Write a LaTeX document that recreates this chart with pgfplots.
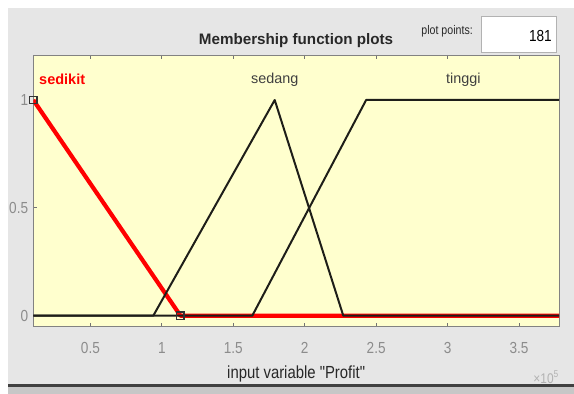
\documentclass[border=0pt]{standalone}
\usepackage{pgfplots}
\pgfplotsset{compat=1.18}
\usepackage{fontspec}
\setmainfont{Liberation Sans}
\newfontfamily\condfont[FakeStretch=0.85]{Liberation Sans}
\definecolor{panel}{RGB}{230,230,230}
\definecolor{axbg}{RGB}{255,255,206}
\definecolor{ticklab}{RGB}{140,140,140}
\definecolor{framec}{RGB}{130,130,130}
\definecolor{mfred}{RGB}{255,0,0}
\definecolor{darktext}{RGB}{40,40,40}
\definecolor{mfline}{RGB}{30,30,25}

\begin{document}
\begin{tikzpicture}
\useasboundingbox (0bp,0bp) rectangle (574bp,394bp);
\fill[white] (0bp,0bp) rectangle (574bp,394bp);
\fill[panel] (8bp,9bp) rectangle (574bp,386bp);
\fill[black!22] (8bp,0bp) rectangle (574bp,7.5bp);
\fill[black!75] (8bp,7bp) rectangle (574bp,10bp);

\node[anchor=base, font=\fontsize{15.2bp}{17bp}\selectfont\bfseries, text=darktext, inner sep=0pt] at (296bp,349bp) {Membership function plots};
\node[anchor=base east, font=\condfont\fontsize{12.5bp}{14bp}\selectfont, text=darktext, inner sep=0pt] at (473bp,359bp) {plot points:};
\draw[fill=white, draw=black!30] (481bp,342bp) rectangle (556bp,378bp);
\node[anchor=base east, font=\condfont\fontsize{16bp}{18bp}\selectfont, text=black, inner sep=0pt] at (552bp,352.5bp) {181};

\begin{axis}[
  at={(33.3bp,67.2bp)}, anchor=south west,
  scale only axis,
  width=525.7bp, height=271.8bp,
  xmin=0.1, xmax=3.78,
  ymin=-0.0515, ymax=1.2086,
  axis background/.style={fill=axbg},
  axis line style={draw=framec, line width=0.9pt},
  xtick={0.5,1,1.5,2,2.5,3,3.5},
  xticklabels={0.5,1,1.5,2,2.5,3,3.5},
  ytick={0,0.5,1},
  yticklabels={0,0.5,1},
  tick align=inside,
  xtick pos=both,
  ytick pos=left,
  major tick length=4bp,
  tick style={draw=black!55, line width=0.8pt},
  xticklabel style={font=\condfont\fontsize{16bp}{18bp}\selectfont, text=ticklab, anchor=base, yshift=-27bp, inner sep=0pt},
  yticklabel style={font=\condfont\fontsize{16bp}{18bp}\selectfont, text=ticklab, anchor=east, xshift=-5bp, inner sep=0pt},
  xlabel={input variable "Profit"},
  xlabel style={at={(axis description cs:0.5,0)}, anchor=base, yshift=-52bp, font=\condfont\fontsize{17.5bp}{19bp}\selectfont, text=darktext, inner sep=0pt},
  clip=true,
]
% selected MF (sedikit), drawn thick red
\addplot[mfred, line width=4.2pt, line join=round] coordinates {(0.1,1) (1.13,0) (3.78,0)};
% sedang
\addplot[mfline, line width=2pt, line join=round] coordinates {(0.1,0) (0.94,0) (1.79,1) (2.27,0) (3.78,0)};
% tinggi
\addplot[mfline, line width=2pt, line join=round] coordinates {(0.1,0) (1.633,0) (2.43,1) (3.78,1)};
% handles
\addplot[only marks, mark=square, mark size=3.6bp, mark options={draw=black!80, line width=1.3pt}] coordinates {(0.1,1) (1.13,0)};

\node[anchor=base west, font=\fontsize{14.5bp}{16bp}\selectfont\bfseries, text=mfred, inner sep=0pt] at (axis cs:0.14,1.07) {sedikit};
\node[anchor=base, font=\fontsize{14.4bp}{16bp}\selectfont, text=black!75, inner sep=0pt] at (axis cs:1.79,1.077) {sedang};
\node[anchor=base, font=\fontsize{14.4bp}{16bp}\selectfont, text=black!75, inner sep=0pt] at (axis cs:3.11,1.077) {tinggi};
\end{axis}

\node[anchor=base east, font=\condfont\fontsize{14bp}{16bp}\selectfont, text=black!30, inner sep=0pt] at (559bp,11bp) {×10\textsuperscript{5}};
\end{tikzpicture}
\end{document}
